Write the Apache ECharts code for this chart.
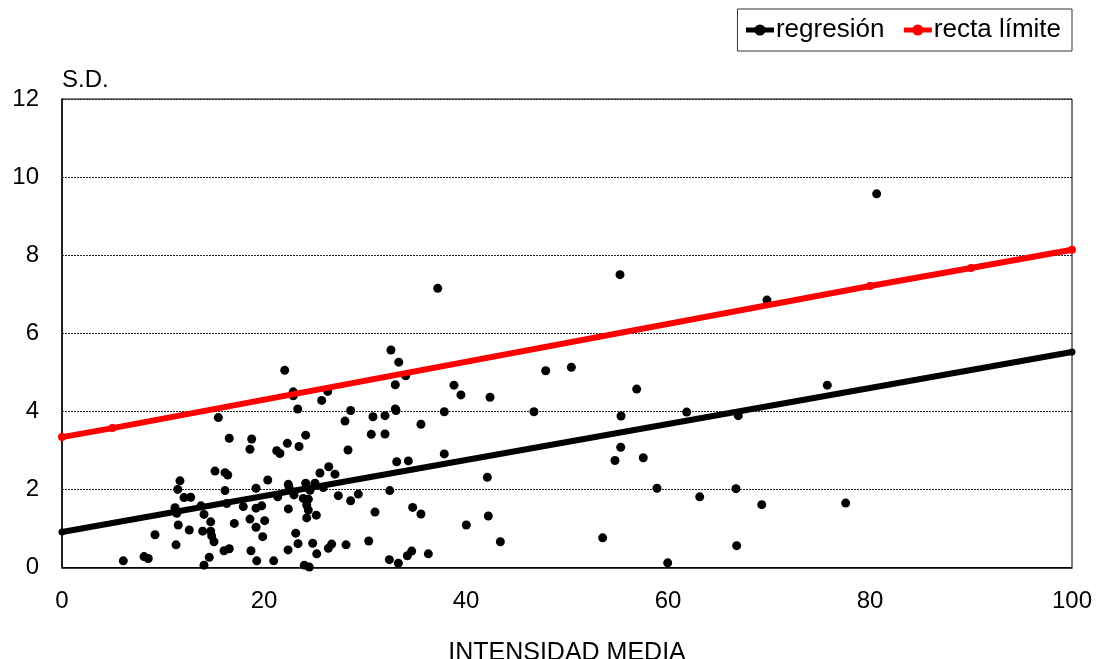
<!DOCTYPE html>
<html>
<head>
<meta charset="utf-8">
<script src="https://cdn.jsdelivr.net/npm/echarts@6/dist/echarts.min.js"></script>
<style>html,body{margin:0;padding:0;background:#fff}#c{width:1096px;height:659px}</style>
</head>
<body>
<div id="c"></div>
<script>
const xTicks = [0, 20, 40, 60, 80, 100];
const yTicks = [0, 2, 4, 6, 8, 10, 12];
const regressionLine = [[0, 0.91], [100, 5.52]];
const limitLine = [[0, 3.34], [5, 3.57], [80, 7.21], [90, 7.67], [100, 8.14]];
const scatterPoints = [
  [15.48,3.84],[16.56,3.31],[18.78,3.29],[18.61,3.03],[15.15,2.47],[16.14,2.43],[16.41,2.37],
  [11.68,2.22],[11.46,2.00],[16.14,1.97],[19.21,2.03],[12.08,1.79],[12.74,1.80],[11.19,1.53],
  [11.36,1.39],[13.76,1.58],[16.31,1.64],[17.95,1.56],[19.21,1.52],[14.06,1.36],[14.72,1.17],
  [11.51,1.09],[12.60,0.96],[17.06,1.13],[18.61,1.24],[19.21,1.03],[13.93,0.93],[14.72,0.93],
  [14.82,0.81],[15.05,0.66],[9.21,0.84],[11.29,0.58],[16.04,0.43],[16.56,0.48],[18.71,0.43],
  [19.28,0.17],[14.58,0.26],[14.06,0.06],[6.07,0.17],[8.12,0.28],[8.54,0.23],
  [32.57,5.57],[33.34,5.26],[22.05,5.05],[34.03,4.91],[22.90,4.50],[22.90,4.40],[26.31,4.51],
  [25.71,4.28],[33.00,4.68],[23.34,4.06],[28.58,4.02],[33.00,4.06],[33.07,4.02],[28.02,3.75],
  [30.79,3.86],[31.98,3.89],[35.54,3.67],[30.62,3.41],[31.98,3.42],[24.13,3.39],[22.31,3.18],
  [23.47,3.10],[21.26,2.99],[21.58,2.92],[28.32,3.01],[33.14,2.71],[34.29,2.73],[26.41,2.58],
  [25.54,2.42],[27.03,2.39],[20.37,2.24],[22.41,2.13],[22.48,2.06],[24.13,2.16],[25.05,2.16],
  [25.87,2.05],[24.55,1.98],[21.36,1.81],[22.97,1.86],[23.89,1.77],[24.39,1.75],[27.36,1.84],
  [29.34,1.88],[28.58,1.71],[32.45,1.97],[19.77,1.58],[22.41,1.50],[24.23,1.60],[24.39,1.47],
  [34.72,1.54],[35.54,1.37],[30.99,1.42],[25.18,1.34],[24.23,1.27],[20.07,1.20],[19.87,0.79],
  [23.14,0.88],[23.37,0.61],[24.82,0.62],[22.38,0.45],[26.37,0.49],[26.70,0.60],[28.12,0.58],
  [30.37,0.68],[25.22,0.35],[20.96,0.17],[23.99,0.06],[24.49,0.01],[32.41,0.20],[33.30,0.11],
  [34.19,0.30],[34.62,0.42],[36.27,0.35],
  [37.20,7.15],[55.25,7.50],[47.89,5.04],[50.43,5.13],[38.81,4.67],[39.50,4.42],[42.38,4.36],
  [56.90,4.57],[37.85,3.99],[46.73,3.99],[55.35,3.88],[61.85,3.98],[37.85,2.91],[55.32,3.08],
  [54.75,2.74],[57.55,2.81],[42.11,2.31],[58.91,2.03],[63.14,1.81],[42.21,1.32],[40.03,1.09],
  [43.40,0.66],[53.53,0.76],[59.97,0.12],
  [80.66,9.57],[69.80,6.85],[75.77,4.67],[66.96,3.89],[66.73,2.02],[69.28,1.61],[77.59,1.65],
  [66.80,0.56]
];

const chart = echarts.init(document.getElementById('c'), null, {renderer: 'canvas'});
const font = 'Liberation Sans, Arial, sans-serif';
chart.setOption({
  animation: false,
  backgroundColor: '#fff',
  textStyle: {fontFamily: font},
  legend: {
    data: ['regresión', 'recta límite'],
    right: 24, top: 9,
    padding: [8, 11, 8, 6],
    itemGap: 17,
    itemWidth: 28, itemHeight: 14,
    borderColor: '#333', borderWidth: 1,
    lineStyle: {width: 5},
    textStyle: {fontSize: 26, color: '#000', fontFamily: font, padding: [4, 0, 0, -3]}
  },
  grid: {left: 62, right: 24, top: 99, bottom: 91.5, outerBoundsMode: 'none', show: true, borderColor: '#000', borderWidth: 1, backgroundColor: 'transparent'},
  xAxis: {
    type: 'value', min: xTicks[0], max: xTicks[xTicks.length - 1], interval: 20,
    name: 'INTENSIDAD MEDIA', nameLocation: 'middle', nameGap: 73,
    nameTextStyle: {fontSize: 25, color: '#000', fontFamily: font},
    axisLine: {show: true, lineStyle: {color: '#000', width: 1.5}},
    axisTick: {show: false},
    axisLabel: {fontSize: 24, color: '#000', margin: 22, fontFamily: font},
    splitLine: {show: false}
  },
  yAxis: {
    type: 'value', min: yTicks[0], max: yTicks[yTicks.length - 1], interval: 2,
    name: 'S.D.', nameLocation: 'end', nameGap: 7,
    nameTextStyle: {fontSize: 24, color: '#000', align: 'left', fontFamily: font},
    axisLine: {show: true, lineStyle: {color: '#000', width: 1.5}},
    axisTick: {show: false},
    axisLabel: {fontSize: 24, color: '#000', margin: 23, fontFamily: font, padding: [6, 0, 0, 0]},
    splitLine: {show: true, lineStyle: {color: '#222', type: [2, 1], width: 1}}
  },
  series: [
    {
      name: 'scatter', type: 'scatter', data: scatterPoints,
      symbol: 'circle', symbolSize: 9,
      itemStyle: {color: '#000', opacity: 1}, z: 3
    },
    {
      name: 'regresión', type: 'line', data: regressionLine,
      symbol: 'circle', symbolSize: 7, showSymbol: true,
      lineStyle: {color: '#000', width: 6}, itemStyle: {color: '#000'}, z: 4
    },
    {
      name: 'recta límite', type: 'line', data: limitLine,
      symbol: 'circle', symbolSize: 8, showSymbol: true,
      lineStyle: {color: '#ff0000', width: 6}, itemStyle: {color: '#ff0000'}, z: 4
    }
  ]
});
</script>
</body>
</html>
